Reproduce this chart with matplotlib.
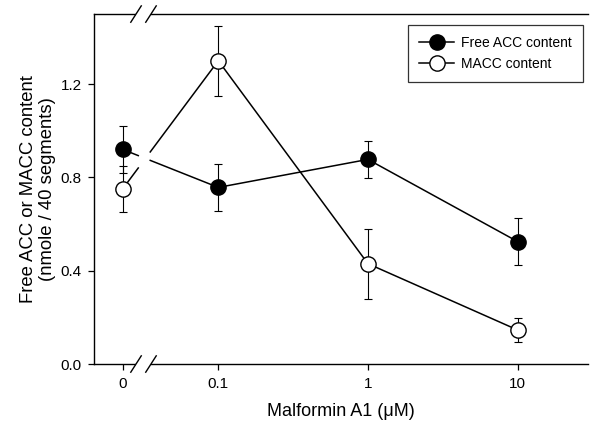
import numpy as np
import matplotlib
matplotlib.use('Agg')
import matplotlib.pyplot as plt

plt.rcParams['font.family'] = ['Liberation Sans', 'DejaVu Sans']

# Data
conc = [0, 0.1, 1, 10]
conc_labels = ['0', '0.1', '1', '10']
free_acc = [0.92, 0.757, 0.877, 0.525]
free_acc_err = [0.10, 0.10, 0.08, 0.10]
macc = [0.75, 1.30, 0.43, 0.146]
macc_err = [0.10, 0.15, 0.15, 0.05]

# position on a log axis, with 0 put at a spot left of the break
ZERO_POS = -1.64
BREAK = -1.50
GAP = (-1.535, -1.455)


def xpos(c):
    return np.array([ZERO_POS if v == 0 else np.log10(v) for v in c])


fig = plt.figure(figsize=(5.92, 4.26), dpi=100)
ax = fig.add_axes([0.159, 0.1455, 0.834, 0.8215])

x = xpos(conc)


def plot_series(y, err, face, label):
    y = np.array(y)
    # broken line around the axis break
    y0 = np.interp(GAP[0], x[:2], y[:2])
    y1 = np.interp(GAP[1], x[:2], y[:2])
    ax.plot([x[0], GAP[0]], [y[0], y0], color='k', lw=1.1, zorder=2)
    ax.plot(np.r_[GAP[1], x[1:]], np.r_[y1, y[1:]], color='k', lw=1.1, zorder=2)
    ax.errorbar(x, y, yerr=err, fmt='none', ecolor='k', elinewidth=0.8,
                capsize=3, capthick=0.8, zorder=3)
    ax.plot(x, y, 'o', ms=11, mfc=face, mec='k', mew=1.0, zorder=4)
    # legend proxy
    ax.plot([], [], '-o', color='k', ms=11, mfc=face, mec='k', mew=1.0, lw=1.1, label=label)


plot_series(free_acc, free_acc_err, 'k', 'Free ACC content')
plot_series(macc, macc_err, 'white', 'MACC content')

ax.set_xlim(-1.83, 1.47)
ax.set_ylim(0, 1.5)
ax.set_xticks(x)
ax.set_xticklabels(conc_labels)
ax.set_yticks([0.0, 0.4, 0.8, 1.2])
ax.set_yticklabels(['0.0', '0.4', '0.8', '1.2'])
ax.tick_params(direction='out', length=4, width=0.9, labelsize=11, pad=5)
ax.spines['right'].set_visible(False)
for s in ['left', 'bottom', 'top']:
    ax.spines[s].set_linewidth(1.0)

# break marks on bottom and top axes
for yy in [0, 1.5]:
    ax.plot([BREAK - 0.05, BREAK + 0.05], [yy, yy], color='white', lw=3,
            clip_on=False, zorder=5, solid_capstyle='butt')
    for dx in [-0.05, 0.05]:
        ax.plot([BREAK + dx - 0.035, BREAK + dx + 0.035], [yy - 0.035, yy + 0.035],
                color='k', lw=1.0, clip_on=False, zorder=6)

ax.set_xlabel('Malformin A1 (\u03bcM)', fontsize=13, labelpad=9)
ax.set_ylabel('Free ACC or MACC content\n(nmole / 40 segments)', fontsize=13.3,
              labelpad=3, linespacing=1.15)

leg = ax.legend(loc='upper right', bbox_to_anchor=(0.990, 0.969), borderaxespad=0,
                fontsize=10, frameon=True, fancybox=False, edgecolor='k',
                handlelength=2.5, borderpad=0.8, labelspacing=0.5, handletextpad=0.5)
leg.get_frame().set_linewidth(0.9)

fig.savefig('out.png', dpi=100)
